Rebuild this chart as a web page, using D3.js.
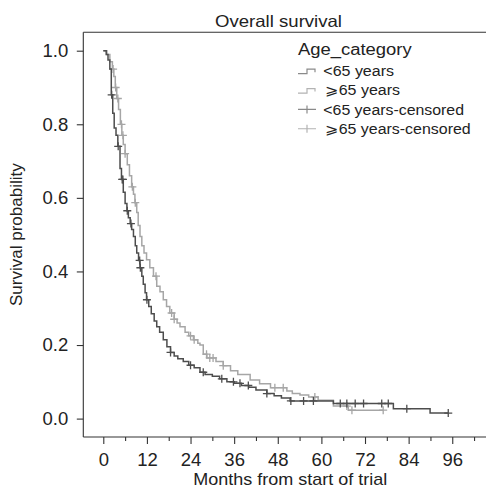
<!DOCTYPE html>
<html>
<head>
<meta charset="utf-8">
<script src="https://cdn.jsdelivr.net/npm/d3@7"></script>
<style>
  body { margin: 0; background: #fff; }
  text { font-family: "Liberation Sans", Arial, sans-serif; fill: #222; }
</style>
</head>
<body>
<svg id="chart" width="486" height="493"></svg>
<script>
// <65 years: step times (months) and survival
var youngTimes = [0,0.8,1.3,1.8,2.2,2.6,3,3.5,4,4.6,5,5.5,6,6.5,6.9,7.4,7.8,8.3,8.8,9.2,9.7,10.1,10.6,11,11.5,11.9,12.5,13.2,14,14.7,15.5,16.5,17.5,18.5,19.5,20.5,22,23.5,25,26.6,28,30,32,34,36,38,40,42,45,47,49,51.4,63.3,79.8,89.9,94.9];
var youngSurv  = [1,0.99,0.975,0.95,0.88,0.83,0.79,0.77,0.74,0.68,0.65,0.615,0.585,0.565,0.546,0.53,0.514,0.495,0.47,0.45,0.43,0.41,0.387,0.365,0.342,0.323,0.305,0.285,0.265,0.25,0.235,0.214,0.195,0.18,0.17,0.163,0.155,0.145,0.138,0.126,0.12,0.115,0.108,0.1,0.096,0.09,0.085,0.078,0.068,0.062,0.056,0.048,0.041,0.027,0.015,0.015];
var youngCensor = [2.3,4.1,5.2,5.4,6.6,7.6,10.0,10.2,12.0,18.5,24,27.5,32.6,35.8,37.6,39.9,45.0,51.6,55.1,57.8,65.2,67.0,69.3,71.6,76.6,78.4,83.5,94.9];

// >=65 years
var oldTimes = [0,1,1.8,2.5,2.9,3.3,3.7,4.2,4.7,5.1,5.5,6,6.6,7.2,7.8,8.3,8.7,9.2,9.6,10.1,10.6,11.2,11.9,12.8,13.8,14.7,15.6,16.5,17.4,18.3,19.5,20.3,21.1,22.5,23.5,24.8,26,26.6,27.5,28.5,31,33,35,37,40.4,43,46,50.5,52,54.1,56.5,59.1,63.3,67.4,77];
var oldSurv  = [1,0.99,0.97,0.95,0.93,0.9,0.87,0.84,0.8,0.77,0.745,0.72,0.69,0.66,0.63,0.61,0.587,0.56,0.525,0.495,0.47,0.45,0.432,0.41,0.387,0.36,0.345,0.323,0.305,0.287,0.27,0.26,0.25,0.235,0.225,0.214,0.205,0.2,0.175,0.165,0.155,0.144,0.13,0.12,0.105,0.095,0.084,0.075,0.068,0.064,0.059,0.05,0.034,0.023,0.023];
var oldCensor = [2.7,3.4,4.0,5.0,5.4,6.0,8.0,8.8,14.5,18.8,19.5,24,25,28.4,29.3,30.2,33,47.2,49.5,58.2,67,68.4,77];

var xTicks = [0,12,24,36,48,60,72,84,96];
var xMinorTicks = [6,18,30,42,54,66,78,90,102];
var yTicks = [0,0.2,0.4,0.6,0.8,1.0];
var legendLabels = ["<65 years", "\u2A7E65 years", "<65 years-censored", "\u2A7E65 years-censored"];
var legendWidths = [70.7, 75, 140.7, 145.7];

var darkCol = "#4d4d4d", lightCol = "#a6a6a6";

var svg = d3.select('#chart');
var panelLeft = 83.3, panelTop = 32.3, panelBottom = 437;
var x = d3.scaleLinear().domain([-5.5, 115.5]).range([panelLeft, panelLeft + 121 * 3.635]);
var y = d3.scaleLinear().domain([-0.05, 1.05]).range([panelBottom, panelTop]);

// title
svg.append('text').attr('x', 278.5).attr('y', 26.5).attr('text-anchor', 'middle')
  .attr('textLength', 127).attr('lengthAdjust', 'spacingAndGlyphs')
  .style('font-size', '16.5px').text('Overall survival');

// panel frame
svg.append('line').attr('x1', panelLeft).attr('x2', 486).attr('y1', panelTop).attr('y2', panelTop)
  .attr('stroke', '#333').attr('stroke-width', 1.1);
svg.append('line').attr('x1', panelLeft).attr('x2', 486).attr('y1', panelBottom).attr('y2', panelBottom)
  .attr('stroke', '#333').attr('stroke-width', 1.1);
svg.append('line').attr('x1', panelLeft).attr('x2', panelLeft).attr('y1', panelTop).attr('y2', panelBottom)
  .attr('stroke', '#333').attr('stroke-width', 1.1);

// axes
svg.append('g').attr('transform', 'translate(' + panelLeft + ',0)')
  .call(d3.axisLeft(y).tickValues(yTicks).tickFormat(d3.format('.1f')).tickSize(6.5).tickPadding(8.5));
svg.append('g').attr('transform', 'translate(0,' + panelBottom + ')')
  .call(d3.axisBottom(x).tickValues(xTicks).tickFormat(d3.format('d')).tickSize(7).tickPadding(9));
svg.append('g').attr('transform', 'translate(0,' + panelBottom + ')')
  .call(d3.axisBottom(x).tickValues(xMinorTicks).tickFormat('').tickSize(4));
svg.selectAll('.domain').remove();
svg.selectAll('.tick line').attr('stroke', '#333').attr('stroke-width', 1.1);
svg.selectAll('.tick text').style('font-size', '18.5px').attr('fill', '#222');

svg.append('text').attr('x', 290.3).attr('y', 485).attr('text-anchor', 'middle')
  .attr('textLength', 194).attr('lengthAdjust', 'spacingAndGlyphs')
  .style('font-size', '17px').text('Months from start of trial');
svg.append('text').attr('transform', 'translate(22,' + ((panelTop + panelBottom) / 2) + ') rotate(-90)')
  .attr('text-anchor', 'middle').style('font-size', '17px').text('Survival probability');

// curves
var line = d3.line().x(d => x(d[0])).y(d => y(d[1])).curve(d3.curveStepAfter);
function stepAt(times, surv, t) {
  var i = d3.bisectRight(times, t) - 1;
  return surv[Math.max(0, i)];
}
function drawCurve(times, surv, censor, col) {
  var pts = times.map((t, i) => [t, surv[i]]);
  svg.append('path').datum(pts).attr('d', line).attr('fill', 'none')
    .attr('stroke', col).attr('stroke-width', 1.5);
  svg.append('g').selectAll('path').data(censor).enter().append('path')
    .attr('d', t => {
      var cx = x(t), cy = y(stepAt(times, surv, t));
      return 'M' + (cx - 4) + ',' + cy + 'H' + (cx + 4) + 'M' + cx + ',' + (cy - 4) + 'V' + (cy + 4);
    })
    .attr('stroke', col).attr('stroke-width', 1.3).attr('fill', 'none');
}
drawCurve(oldTimes, oldSurv, oldCensor, lightCol);
drawCurve(youngTimes, youngSurv, youngCensor, darkCol);

// legend
var lg = svg.append('g').attr('transform', 'translate(297,0)');
lg.append('text').attr('x', 1).attr('y', 54.5)
  .attr('textLength', 113.7).attr('lengthAdjust', 'spacingAndGlyphs')
  .style('font-size', '16px').text('Age_category');
var legendCols = ['#8a8a8a', '#b3b3b3', '#8a8a8a', '#b3b3b3'];
legendLabels.forEach((lab, i) => {
  var cy = 70.7 + i * 19.35;
  if (i < 2) {
    lg.append('path').attr('d', 'M1,' + (cy + 3) + 'H10V' + (cy - 1.5) + 'H18V' + (cy + 1.5))
      .attr('fill', 'none').attr('stroke', legendCols[i]).attr('stroke-width', 1.2);
  } else {
    lg.append('path').attr('d', 'M1,' + cy + 'H19M10,' + (cy - 4) + 'V' + (cy + 4))
      .attr('fill', 'none').attr('stroke', legendCols[i]).attr('stroke-width', 1.2);
  }
  lg.append('text').attr('x', lab.charAt(0) === '<' ? 26.3 : 28).attr('y', cy + 5.3)
    .attr('textLength', legendWidths[i]).attr('lengthAdjust', 'spacingAndGlyphs')
    .style('font-size', '14px').text(lab);
});
</script>
</body>
</html>
